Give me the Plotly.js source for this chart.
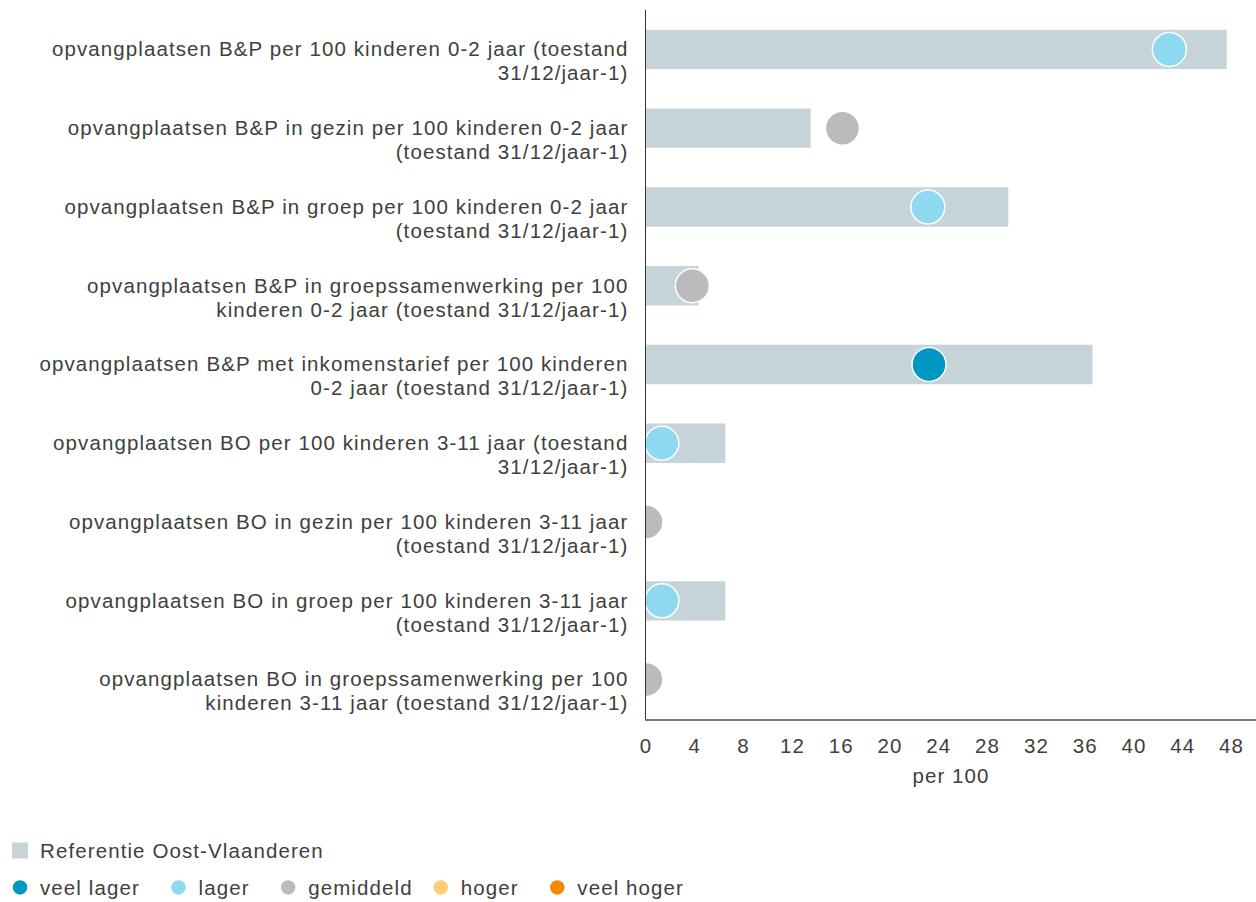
<!DOCTYPE html>
<html>
<head>
<meta charset="utf-8">
<script src="https://cdn.plot.ly/plotly-3.0.1.min.js"></script>
<style>
  body { margin: 0; background: #fff; }
  #chart { width: 1256px; height: 902px; }
  /* the reference text runs a bit wider than plain Arial; global so plotly's
     text measuring picks it up as well */
  svg text { letter-spacing: 1.1px; }
</style>
</head>
<body>
<div id="chart"></div>
<script>
// categories (two-line labels as on the picture)
const labels = [
  'opvangplaatsen B&P per 100 kinderen 0-2 jaar (toestand<br>31/12/jaar-1)',
  'opvangplaatsen B&P in gezin per 100 kinderen 0-2 jaar<br>(toestand 31/12/jaar-1)',
  'opvangplaatsen B&P in groep per 100 kinderen 0-2 jaar<br>(toestand 31/12/jaar-1)',
  'opvangplaatsen B&P in groepssamenwerking per 100<br>kinderen 0-2 jaar (toestand 31/12/jaar-1)',
  'opvangplaatsen B&P met inkomenstarief per 100 kinderen<br>0-2 jaar (toestand 31/12/jaar-1)',
  'opvangplaatsen BO per 100 kinderen 3-11 jaar (toestand<br>31/12/jaar-1)',
  'opvangplaatsen BO in gezin per 100 kinderen 3-11 jaar<br>(toestand 31/12/jaar-1)',
  'opvangplaatsen BO in groep per 100 kinderen 3-11 jaar<br>(toestand 31/12/jaar-1)',
  'opvangplaatsen BO in groepssamenwerking per 100<br>kinderen 3-11 jaar (toestand 31/12/jaar-1)'
];
const categories = labels.map((l, i) => 'c' + i);

// reference Oost-Vlaanderen (bars)
const referentie = [47.6, 13.5, 29.7, 4.3, 36.6, 6.5, 0, 6.5, 0];
// municipality values (dots) and their class
const waarden = [42.9, 16.1, 23.1, 3.8, 23.2, 1.3, 0, 1.3, 0];
const klasse = ['lager', 'gemiddeld', 'lager', 'gemiddeld', 'veel lager', 'lager', 'gemiddeld', 'lager', 'gemiddeld'];

const klassen = ['veel lager', 'lager', 'gemiddeld', 'hoger', 'veel hoger'];
const kleuren = ['#0097c4', '#8ed9f0', '#bbbbbb', '#ffcd75', '#f58a00'];
// which legend box each class goes in (the row is split so it never wraps)
const klasseLegend = ['legend2', 'legend2', 'legend2', 'legend3', 'legend3'];
const barKleur = '#c6d4da';

const txt = '#404040';
const font = 'Liberation Sans, Arial, sans-serif';
const fs = 20.5;
const pad = '\u00a0\u00a0';  // extra room between legend entries

const traces = [{
  type: 'bar',
  orientation: 'h',
  x: referentie,
  y: categories,
  width: 0.5,
  marker: { color: barKleur },
  showlegend: false,
  hoverinfo: 'x'
}, {
  // legend entry for the bars, as a bigger square
  type: 'scatter',
  mode: 'markers',
  x: [null],
  y: [categories[0]],
  name: 'Referentie Oost-Vlaanderen',
  legend: 'legend',
  marker: { color: barKleur, symbol: 'square', size: 22 }
}];

klassen.forEach((k, i) => {
  const xs = [], ys = [];
  waarden.forEach((v, j) => {
    if (klasse[j] === k) { xs.push(v); ys.push(categories[j]); }
  });
  traces.push({
    type: 'scatter',
    mode: 'markers',
    x: xs.length ? xs : [null],
    y: ys.length ? ys : [categories[0]],
    name: k + pad,
    legend: klasseLegend[i],
    marker: { color: kleuren[i], size: 34, line: { color: '#ffffff', width: 1.5 } },
    cliponaxis: true
  });
});

const legendBase = {
  xref: 'container', yref: 'container',
  xanchor: 'left', yanchor: 'middle',
  orientation: 'h',
  itemsizing: 'trace',
  font: { size: fs, color: txt },
  bgcolor: 'rgba(0,0,0,0)'
};

const layout = {
  width: 1256,
  height: 902,
  margin: { l: 646, r: 0, t: 10, b: 183 },
  paper_bgcolor: '#fff',
  plot_bgcolor: '#fff',
  font: { family: font, size: fs, color: txt },
  showlegend: true,
  xaxis: {
    range: [0, 50],
    tickvals: [0, 4, 8, 12, 16, 20, 24, 28, 32, 36, 40, 44, 48],
    showgrid: false,
    zeroline: false,
    showline: true,
    linecolor: '#777',
    linewidth: 1.5,
    ticks: '',
    ticklabelstandoff: 8,
    tickfont: { size: fs, color: txt },
    title: { text: 'per 100', font: { size: fs, color: txt }, standoff: 12 }
  },
  yaxis: {
    type: 'category',
    categoryorder: 'array',
    categoryarray: categories,
    range: [8.5, -0.5],
    tickvals: categories,
    ticktext: labels,
    showgrid: false,
    zeroline: false,
    showline: true,
    linecolor: '#333',
    linewidth: 1.5,
    ticks: '',
    ticklabelstandoff: 12,
    ticklabelshift: -13,
    tickfont: { size: fs, color: txt }
  },
  legend: Object.assign({}, legendBase, { x: 0, y: 0.057 }),
  legend2: Object.assign({}, legendBase, { x: 0, y: 0.016 }),
  legend3: Object.assign({}, legendBase, { x: 0.335, y: 0.016 })
};

Plotly.newPlot('chart', traces, layout, { displayModeBar: false, staticPlot: true }).then(gd => {
  // tighter line spacing in the wrapped category labels, as in the reference
  gd.querySelectorAll('.ytick text').forEach(t => {
    t.querySelectorAll('tspan.line').forEach((s, i) => {
      if (i > 0) s.setAttribute('dy', (i * 1.17) + 'em');
    });
  });
});
</script>
</body>
</html>
